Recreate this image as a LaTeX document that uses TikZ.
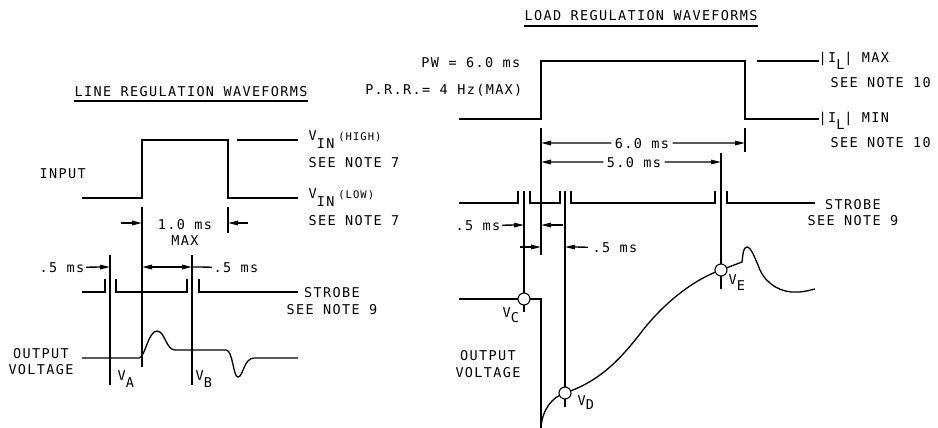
\documentclass[tikz,border=0pt]{standalone}
\usepackage{fontspec}
\setmainfont{DejaVu Sans Mono}[LetterSpace=10]
\usetikzlibrary{arrows.meta}

\begin{document}
\begin{tikzpicture}[x=1pt,y=-1pt,line width=1.3pt,>={Triangle[length=10pt,width=4.5pt]}]
	\tikzstyle{txt}=[inner sep=0pt,font=\fontsize{13.5}{16}\selectfont]
	\tikzstyle{probe}=[draw,fill=white,circle,inner sep=0pt,minimum size=12pt,line width=1.1pt]
	\useasboundingbox (0,0) rectangle (938,428);

	% line regulation
	\node[txt,anchor=base west](lt) at (74,96){LINE REGULATION WAVEFORMS};
	\draw ([yshift=-5pt]lt.base west) -- ([yshift=-5pt]lt.base east);

	\draw (82,198) -- (142,198) -- (142,140) -- (228,140) -- (228,198) -- (298,198);
	\draw (237,140) -- (298,140);
	\node[txt,anchor=base west](inp) at (39,178){INPUT};
	\node[txt,anchor=base west](vinh) at (308,140){V\raisebox{-8pt}{IN}\hspace{4pt}{\fontsize{10.5}{12}\selectfont(HIGH)}};
	\node[txt,anchor=base west](n7a) at (308,167){SEE NOTE 7};
	\node[txt,anchor=base west](vinl) at (308,198){V\raisebox{-8pt}{IN}\hspace{4pt}{\fontsize{10.5}{12}\selectfont(LOW)}};
	\node[txt,anchor=base west](n7b) at (308,225){SEE NOTE 7};

	\draw (142,207) -- (142,367);
	\draw (228,207) -- (228,233);
	\draw (110,255) -- (110,385);
	\draw (192,255) -- (192,385);

	\node[txt,anchor=base](d10) at (185,229){1.0 ms};
	\node[txt,anchor=base](dmax) at (185,245){MAX};
	\draw[->] (121,223) -- (142,223);
	\draw[->] (248,223) -- (228,223);

	\node[txt,anchor=base east](d5a) at (85,272){.5 ms};
	\draw[->] ([xshift=1pt]d5a.east) -- (110,267);
	\draw[<->] (142,267) -- (192,267);
	\node[txt,anchor=base west](d5b) at (213,272){.5 ms};
	\draw (192,267) -- ([xshift=-1pt]d5b.west);

	\draw (82,292) -- (105,292) -- (105,279);
	\draw (116,279) -- (116,292) -- (187,292) -- (187,279);
	\draw (199,279) -- (199,292) -- (298,292);
	\node[txt,anchor=base](strl) at (332,297){STROBE};
	\node[txt,anchor=base](n9l) at (332,314){SEE NOTE 9};

	\draw (82,358) -- (139,358) .. controls (145,358) and (148,331) .. (157,331)
		.. controls (165,331) and (166,350) .. (175,350) -- (226,350)
		.. controls (233,350) and (233,377) .. (238,377)
		.. controls (243,377) and (244,358) .. (254,358) -- (298,358);
	\node[txt,anchor=base](outl) at (41,358){OUTPUT};
	\node[txt,anchor=base](voll) at (41,374){VOLTAGE};
	\node[txt,anchor=base west](va) at (117,380){V\raisebox{-7pt}{A}};
	\node[txt,anchor=base west](vb) at (195,380){V\raisebox{-7pt}{B}};

	% load regulation
	\node[txt,anchor=base west](rt) at (524,21){LOAD REGULATION WAVEFORMS};
	\draw ([yshift=-5pt]rt.base west) -- ([yshift=-5pt]rt.base east);

	\node[txt,anchor=base east](pw) at (521,68){PW = 6.0 ms};
	\node[txt,anchor=base east](prr) at (523,95){P.R.R.= 4 Hz(MAX)};
	\draw (459,119) -- (541,119) -- (541,61) -- (745,61) -- (745,119) -- (819,119);
	\draw (757,61) -- (819,61);
	\node[txt,anchor=base west](ilmax) at (818,63){|I\raisebox{-7pt}{L}| MAX};
	\node[txt,anchor=base west](n10a) at (830,88){SEE NOTE 10};
	\node[txt,anchor=base west](ilmin) at (818,122){|I\raisebox{-7pt}{L}| MIN};
	\node[txt,anchor=base west](n10b) at (830,147){SEE NOTE 10};

	\draw (541,128) -- (541,255);
	\draw (745,128) -- (745,152);
	\draw (721,153) -- (721,289);
	\draw (524,191) -- (524,312);
	\draw (565,191) -- (565,407);

	\node[txt,anchor=base](d60) at (642,148){6.0 ms};
	\draw[->] ([xshift=-3pt]d60.west) -- (541,143);
	\draw[->] ([xshift=3pt]d60.east) -- (745,143);
	\node[txt,anchor=base](d50) at (634,167){5.0 ms};
	\draw[->] ([xshift=-3pt]d50.west) -- (541,162);
	\draw[->] ([xshift=3pt]d50.east) -- (721,162);

	\draw (459,203) -- (518,203) -- (518,191);
	\draw (530,191) -- (530,203) -- (560,203) -- (560,191);
	\draw (571,191) -- (571,203) -- (715,203) -- (715,191);
	\draw (727,191) -- (727,203) -- (815,203);
	\node[txt,anchor=base](strr) at (853,209){STROBE};
	\node[txt,anchor=base](n9r) at (853,225){SEE NOTE 9};

	\node[txt,anchor=base east](d5c) at (501,230){.5 ms};
	\draw[->] ([xshift=1pt]d5c.east) -- (524,225);
	\draw[->] (563,225) -- (541,225);
	\draw[->] (520,247) -- (541,247);
	\node[txt,anchor=base west](d5d) at (592,252){.5 ms};
	\draw[->] ([xshift=-4pt]d5d.west) -- (565,247);

	\draw (459,299) -- (541,299) -- (541,428);
	\draw (541,428) .. controls (542,410) and (552,397) .. (565,393)
		.. controls (600,381) and (620,360) .. (643,330)
		.. controls (666,301) and (695,279) .. (721,270) -- (742,262)
		.. controls (743,255) and (743,247) .. (747,247)
		.. controls (751,247) and (755,258) .. (760,270)
		.. controls (767,285) and (782,293) .. (797,292)
		.. controls (805,292) and (810,290) .. (815,289);

	\node[probe](vc) at (524,299){};
	\node[probe](vd) at (565,393){};
	\node[probe](ve) at (721,270){};
	\node[txt,anchor=base west](vcl) at (502,317){V\raisebox{-5pt}{C}};
	\node[txt,anchor=base west](vdl) at (577,405){V\raisebox{-4pt}{D}};
	\node[txt,anchor=base west](vel) at (728,284){V\raisebox{-6pt}{E}};
	\node[txt,anchor=base](outr) at (488,360){OUTPUT};
	\node[txt,anchor=base](volr) at (488,377){VOLTAGE};

\end{tikzpicture}
\end{document}
